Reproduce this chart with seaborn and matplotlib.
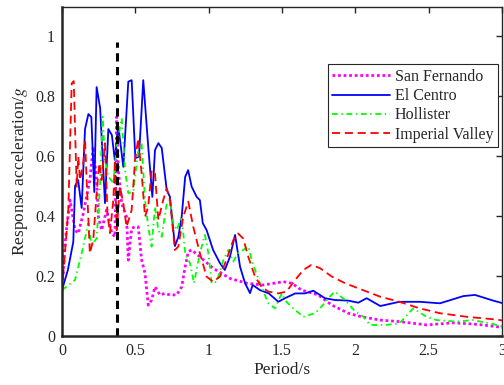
import numpy as np
import pandas as pd
import seaborn as sns
import matplotlib
matplotlib.use("Agg")
import matplotlib.pyplot as plt

# ---- data ----
sf_t = [0.0, 0.02, 0.032, 0.055, 0.089, 0.111, 0.145, 0.19, 0.213, 0.236, 0.248, 0.27, 0.304, 0.34, 0.361,
        0.373, 0.384, 0.407, 0.44, 0.452, 0.475, 0.498, 0.52, 0.543, 0.566, 0.588, 0.611, 0.634, 0.668,
        0.702, 0.736, 0.782, 0.816, 0.84, 0.861, 0.884, 0.94, 1.03, 1.145, 1.26, 1.37, 1.51, 1.566, 1.634,
        1.747, 1.84, 1.952, 2.043, 2.17, 2.3, 2.486, 2.67, 2.83, 3.0]
sf_a = [0.15, 0.30, 0.364, 0.453, 0.353, 0.342, 0.409, 0.52, 0.631, 0.52, 0.398, 0.353, 0.42, 0.342, 0.331,
        0.731, 0.553, 0.442, 0.398, 0.253, 0.359, 0.364, 0.364, 0.253, 0.209, 0.103, 0.12, 0.164, 0.137,
        0.142, 0.137, 0.137, 0.164, 0.231, 0.281, 0.287, 0.264, 0.226, 0.192, 0.176, 0.17, 0.181, 0.176, 0.153,
        0.137, 0.103, 0.076, 0.064, 0.053, 0.048, 0.037, 0.044, 0.039, 0.029]

ec_t = [0.0, 0.04, 0.077, 0.089, 0.11, 0.134, 0.157, 0.18, 0.2, 0.22, 0.236, 0.26, 0.293, 0.316, 0.34, 0.36,
        0.384, 0.418, 0.452, 0.475, 0.50, 0.525, 0.554, 0.588, 0.616, 0.634, 0.657, 0.68, 0.714, 0.736, 0.77,
        0.793, 0.816, 0.84, 0.86, 0.884, 0.918, 0.94, 0.96, 0.986, 1.03, 1.077, 1.11, 1.145, 1.18, 1.214,
        1.248, 1.282, 1.30, 1.35, 1.41, 1.475, 1.52, 1.59, 1.657, 1.713, 1.793, 1.86, 1.952, 2.02, 2.077,
        2.17, 2.30, 2.44, 2.577, 2.736, 2.816, 2.94, 3.0]
ec_a = [0.153, 0.22, 0.314, 0.50, 0.52, 0.427, 0.69, 0.74, 0.73, 0.48, 0.83, 0.76, 0.443, 0.69, 0.67, 0.587,
        0.70, 0.564, 0.848, 0.853, 0.593, 0.598, 0.853, 0.631, 0.464, 0.62, 0.643, 0.627, 0.487, 0.464, 0.30,
        0.33, 0.398, 0.531, 0.553, 0.498, 0.464, 0.453, 0.376, 0.353, 0.287, 0.243, 0.22, 0.264, 0.337, 0.231,
        0.176, 0.143, 0.17, 0.153, 0.142, 0.114, 0.126, 0.142, 0.142, 0.151, 0.126, 0.12, 0.118, 0.111, 0.126,
        0.10, 0.114, 0.114, 0.109, 0.133, 0.137, 0.118, 0.11]

ho_t = [0.0, 0.089, 0.134, 0.18, 0.2, 0.236, 0.259, 0.277, 0.293, 0.316, 0.35, 0.373, 0.407, 0.43, 0.452,
        0.486, 0.52, 0.543, 0.566, 0.588, 0.611, 0.634, 0.657, 0.68, 0.714, 0.736, 0.759, 0.782, 0.816, 0.84,
        0.873, 0.9, 0.94, 0.975, 0.998, 1.02, 1.055, 1.1, 1.134, 1.168, 1.2, 1.27, 1.30, 1.35, 1.407, 1.452,
        1.498, 1.53, 1.577, 1.645, 1.725, 1.77, 1.816, 1.86, 1.93, 2.0, 2.055, 2.1, 2.214, 2.30, 2.395, 2.486,
        2.555, 2.69, 2.80, 2.94, 3.0]
ho_a = [0.153, 0.187, 0.276, 0.376, 0.303, 0.325, 0.498, 0.731, 0.587, 0.531, 0.51, 0.631, 0.726, 0.553,
        0.476, 0.481, 0.62, 0.642, 0.453, 0.364, 0.298, 0.431, 0.353, 0.331, 0.442, 0.453, 0.376, 0.353,
        0.398, 0.276, 0.242, 0.176, 0.276, 0.337, 0.276, 0.176, 0.181, 0.253, 0.287, 0.248, 0.276, 0.298,
        0.242, 0.176, 0.109, 0.092, 0.142, 0.114, 0.092, 0.064, 0.076, 0.098, 0.126, 0.148, 0.12, 0.081,
        0.064, 0.037, 0.037, 0.042, 0.092, 0.064, 0.053, 0.048, 0.053, 0.04, 0.031]

iv_t = [0.0, 0.043, 0.066, 0.08, 0.1, 0.111, 0.123, 0.145, 0.157, 0.168, 0.19, 0.213, 0.236, 0.254, 0.27,
        0.293, 0.31, 0.327, 0.35, 0.361, 0.373, 0.395, 0.418, 0.44, 0.475, 0.498, 0.52, 0.543, 0.566, 0.588,
        0.611, 0.634, 0.657, 0.69, 0.714, 0.736, 0.759, 0.77, 0.793, 0.827, 0.861, 0.895, 0.94, 0.986, 1.03,
        1.077, 1.12, 1.168, 1.2, 1.236, 1.27, 1.316, 1.36, 1.407, 1.475, 1.53, 1.59, 1.645, 1.70, 1.76, 1.84,
        1.93, 2.02, 2.17, 2.30, 2.44, 2.577, 2.76, 2.96, 3.0]
iv_a = [0.153, 0.42, 0.842, 0.85, 0.498, 0.598, 0.52, 0.576, 0.653, 0.52, 0.276, 0.32, 0.476, 0.576, 0.52,
        0.643, 0.41, 0.343, 0.453, 0.587, 0.353, 0.498, 0.442, 0.364, 0.42, 0.587, 0.659, 0.542, 0.398, 0.431,
        0.553, 0.542, 0.387, 0.453, 0.492, 0.453, 0.342, 0.287, 0.298, 0.398, 0.448, 0.364, 0.276, 0.198,
        0.181, 0.198, 0.253, 0.32, 0.342, 0.325, 0.264, 0.198, 0.164, 0.148, 0.142, 0.148, 0.187, 0.22, 0.237,
        0.226, 0.198, 0.176, 0.159, 0.131, 0.114, 0.092, 0.076, 0.064, 0.055, 0.052]

names = ["San Fernando", "El Centro", "Hollister", "Imperial Valley"]
xticks = [0, 0.5, 1, 1.5, 2, 2.5, 3]
xticklabels = ["0", "0.5", "1", "1.5", "2", "2.5", "3"]
yticks = [0, 0.2, 0.4, 0.6, 0.8, 1.0]
yticklabels = ["0", "0.2", "0.4", "0.6", "0.8", "1"]
vline_x = 0.375
vline_top = 0.98

# ---- style ----
sns.set_theme(style="white")
plt.rcParams["font.family"] = ["Liberation Serif", "DejaVu Serif"]
plt.rcParams["mathtext.fontset"] = "stix"

fig = plt.figure(figsize=(5.04, 3.85), dpi=100)
ax = fig.add_axes([62 / 504, 1 - 336 / 385, 440 / 504, 329 / 385])

series = [(sf_t, sf_a), (ec_t, ec_a), (ho_t, ho_a), (iv_t, iv_a)]
colors = ["#FF00FF", "#0000FF", "#00FF00", "#FF0000"]
styles = [(0, (1, 1)), "-", (0, (3.2, 2.0, 0.8, 2.0)), (0, (4.5, 2.6))]
widths = [2.0, 1.3, 1.3, 1.3]

for name, (t, a), c, ls, lw in zip(names, series, colors, styles, widths):
    df = pd.DataFrame({"Period": t, "Acc": a})
    sns.lineplot(data=df, x="Period", y="Acc", ax=ax, color=c, linestyle=ls,
                 linewidth=lw, label=name, sort=False, estimator=None)

ax.plot([vline_x, vline_x], [0, vline_top], color="black", linestyle=(0, (2.7, 1.8)), linewidth=2.2)

ax.set_xlim(0, 3)
ax.set_ylim(0, 1.097)
ax.set_xticks(xticks)
ax.set_xticklabels(xticklabels)
ax.set_yticks(yticks)
ax.set_yticklabels(yticklabels)
ax.tick_params(direction="in", length=4, width=1, top=True, right=True,
               labelsize=11.5, colors="#262626", pad=5)
for sp in ax.spines.values():
    sp.set_visible(True)
    sp.set_color("#262626")
    sp.set_linewidth(1.0)
ax.spines["left"].set_linewidth(1.8)
ax.spines["bottom"].set_linewidth(1.8)

ax.set_xlabel("Period/s", fontsize=12.5, color="#262626", labelpad=2)
ax.set_ylabel("Response acceleration/$g$", fontsize=12.5, color="#262626", labelpad=4)

leg = ax.legend(loc="upper right", bbox_to_anchor=(0.991, 0.826), fontsize=11.5,
                frameon=True, fancybox=False, edgecolor="#262626", framealpha=1,
                borderpad=0.3, labelspacing=0.2, handlelength=3.6, handletextpad=0.3,
                borderaxespad=0)
leg.get_frame().set_linewidth(0.8)

fig.savefig("out.png", dpi=100)
